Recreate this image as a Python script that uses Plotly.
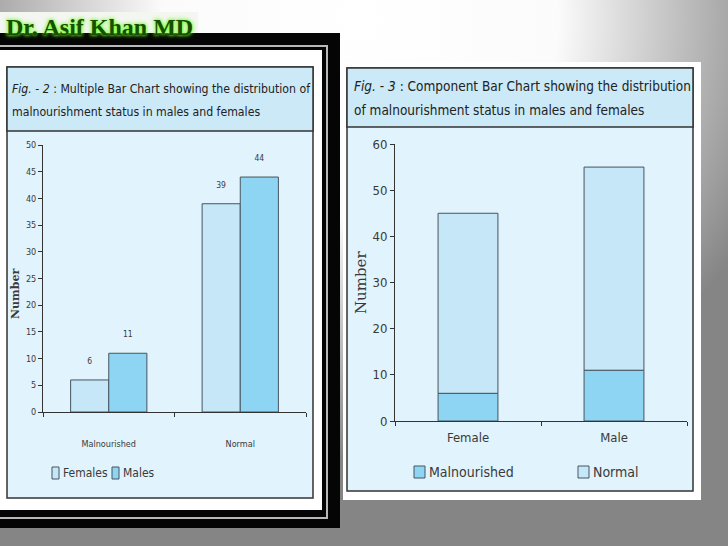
"""
Two malnourishment bar charts on one slide: a multiple (grouped) bar chart
on the left and a component (stacked) bar chart on the right.
"""

import base64
import plotly.graph_objects as go

W, H = 728, 546

# ── Data ─────────────────────────────────────────────────────────────────────
status = ["Malnourished", "Normal"]
females = [6, 39]
males = [11, 44]

sexes = ["Female", "Male"]
malnourished = [6, 11]
normal = [39, 44]

LIGHT = "#c6e7f7"
DARK = "#8ed5f3"
EDGE = "#46545f"
TXT = "#3a3a3a"
NARROW = "DejaVu Sans Condensed, sans-serif"
SERIF = "DejaVu Serif, serif"


def px(x, y):
    """pixel position -> paper fraction"""
    return x / W, 1 - y / H


def rect(x0, y0, x1, y1, fill, line=None, lw=0):
    a, b = px(x0, y1)
    c, d = px(x1, y0)
    return dict(type="rect", xref="paper", yref="paper", x0=a, y0=b, x1=c, y1=d,
                fillcolor=fill, line=dict(color=line or fill, width=lw), layer="below")


def note(x, y, text, size, family=NARROW, color=TXT, **kw):
    return dict(x=x / W, y=1 - y / H, xref="paper", yref="paper", text=text,
                showarrow=False, font=dict(family=family, size=size, color=color), **kw)


fig = go.Figure()

# ── Left: multiple bar chart ─────────────────────────────────────────────────
for name, vals, col in [("Females", females, LIGHT), ("Males", males, DARK)]:
    fig.add_trace(go.Bar(x=status, y=vals, name=name, marker_color=col,
                         marker_line=dict(color=EDGE, width=1), text=vals,
                         texttemplate="%{text}<br> ", textposition="outside",
                         showlegend=False, cliponaxis=False,
                         textfont=dict(size=8.5, color=TXT, family=NARROW)))

# ── Right: component bar chart ───────────────────────────────────────────────
fig.add_trace(go.Bar(x=sexes, y=malnourished, name="Malnourished", marker_color=DARK,
                     marker_line=dict(color=EDGE, width=1), width=0.41, offset=-0.205,
                     xaxis="x2", yaxis="y2", showlegend=False))
fig.add_trace(go.Bar(x=sexes, y=normal, base=malnourished, name="Normal",
                     marker_color=LIGHT, marker_line=dict(color=EDGE, width=1),
                     width=0.41, offset=-0.205, xaxis="x2", yaxis="y2", showlegend=False))

# ── Slide background (radial grey gradient) ──────────────────────────────────
svg = (
    "<svg xmlns='http://www.w3.org/2000/svg' width='728' height='546'>"
    "<defs><radialGradient id='g' cx='360' cy='20' r='440' gradientUnits='userSpaceOnUse'>"
    "<stop offset='0' stop-color='#ffffff'/><stop offset='0.45' stop-color='#fbfbfb'/>"
    "<stop offset='1' stop-color='#858585'/></radialGradient></defs>"
    "<rect width='728' height='546' fill='url(#g)'/></svg>"
)
bg = "data:image/svg+xml;base64," + base64.b64encode(svg.encode()).decode()

shapes = [
    # name plate
    rect(0, 12, 198, 34, "#f4f6f2"),
    # left panel: black frame with inner rules
    rect(0, 33, 340, 528, "#050505"),
    rect(0, 45, 328, 519, "#b9b9b9"),
    rect(0, 47, 326, 517, "#050505"),
    rect(0, 50, 322, 510, "#ffffff"),
    rect(7, 67, 313, 498, "#e1f3fc", "#333333", 1.5),
    rect(7, 67, 313, 131, "#cbe9f7", "#333333", 1.5),
    # right panel
    rect(343, 62, 701, 500, "#ffffff"),
    rect(347, 68, 693, 491, "#e1f3fc", "#333333", 1.5),
    rect(347, 68, 693, 127, "#cbe9f7", "#333333", 1.5),
]

ann = [
    note(4, 27, "<b>Dr. Asif Khan MD</b>", 24, family="Liberation Serif, serif",
         color="#174f02", xanchor="left", yanchor="middle"),
    note(10, 89, "<i>Fig.</i> - <i>2</i> : Multiple Bar Chart showing the distribution of",
         12.2, color="#222222", xanchor="left", yanchor="middle"),
    note(10, 112, "malnourishment status in males and females",
         12.2, color="#222222", xanchor="left", yanchor="middle"),
    note(352, 86, "<i>Fig.</i> - <i>3</i> : Component Bar Chart showing the distribution",
         13.5, color="#222222", xanchor="left", yanchor="middle"),
    note(352, 110, "of malnourishment status in males and females",
         13.5, color="#222222", xanchor="left", yanchor="middle"),
    note(15, 294, "<b>Number</b>", 11, family=SERIF, textangle=-90,
         xanchor="center", yanchor="middle"),
    note(361, 283, "Number", 15, family=SERIF, textangle=-90,
         xanchor="center", yanchor="middle"),
]
ann[0]["font"]["shadow"] = "0px 0px 3px #6cff1c, 0px 0px 5px #6cff1c"

# ── Hand-placed legends (square swatch + label) ──────────────────────────────
legend_left = [("Females", LIGHT, 52), ("Males", DARK, 112)]
legend_right = [("Malnourished", DARK, 414), ("Normal", LIGHT, 578)]
for items, ly, sw, fs in [(legend_left, 473, 7, 12), (legend_right, 472, 11, 14)]:
    for label, col, lx in items:
        shapes.append(rect(lx, ly - 6, lx + sw, ly + 6, col, EDGE, 1))
        ann.append(note(lx + sw + 2, ly, label, fs, xanchor="left", yanchor="middle"))

axis_common = dict(showline=True, linecolor="#333333", linewidth=1, ticks="outside",
                   ticklen=4, tickcolor="#333333", showgrid=False, zeroline=False,
                   fixedrange=True, automargin=False)

fig.update_layout(
    width=W, height=H, margin=dict(l=0, r=0, t=0, b=0, autoexpand=False),
    paper_bgcolor="#8a8a8a", plot_bgcolor="rgba(0,0,0,0)",
    barmode="group", bargap=0.42, bargroupgap=0, showlegend=False,
    images=[dict(source=bg, xref="paper", yref="paper", x=0, y=1, sizex=1, sizey=1,
                 sizing="stretch", xanchor="left", yanchor="top", layer="below")],
    shapes=shapes, annotations=ann,
    xaxis=dict(domain=[43 / W, 306 / W], tickson="boundaries", anchor="y",
               ticklabelstandoff=23,
               tickfont=dict(family=NARROW, size=9, color=TXT), **axis_common),
    yaxis=dict(domain=[1 - 412 / H, 1 - 145 / H], range=[0, 50], dtick=5, anchor="x",
               tickfont=dict(family=NARROW, size=9, color=TXT), **axis_common),
    xaxis2=dict(domain=[395 / W, 687 / W], tickson="boundaries", anchor="y2",
                ticklabelstandoff=4,
                tickfont=dict(family=NARROW, size=13, color=TXT), **axis_common),
    yaxis2=dict(domain=[1 - 421 / H, 1 - 144 / H], range=[0, 60], dtick=10, anchor="x2",
                tickfont=dict(family=NARROW, size=13, color=TXT), **axis_common),
)

# the page body keeps its default 8px margin otherwise
fig.write_html("out.html", config={"displayModeBar": False},
               post_script="document.body.style.margin='0';")
